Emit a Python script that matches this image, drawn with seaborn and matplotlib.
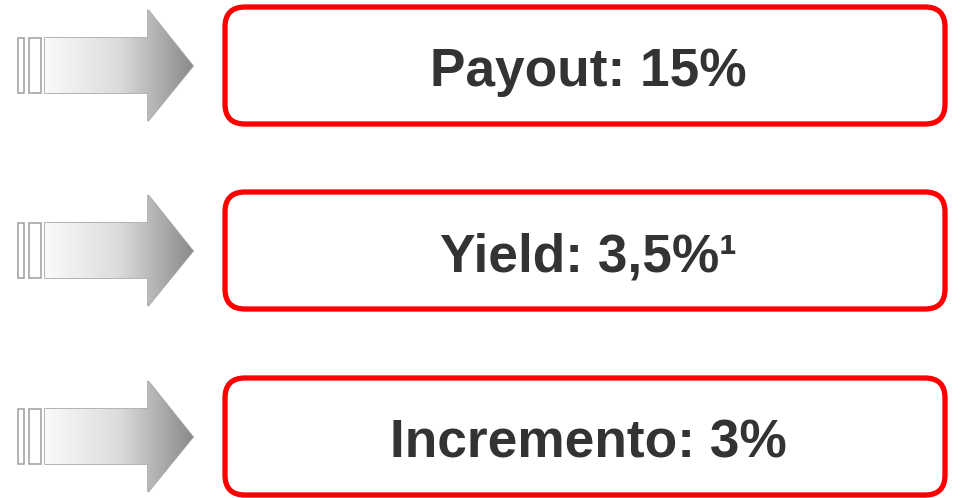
import numpy as np
import seaborn as sns
import matplotlib.pyplot as plt
from matplotlib.patches import FancyBboxPatch, Polygon, Rectangle

# data
labels = ["Payout: 15%", "Yield: 3,5%\u00b9", "Incremento: 3%"]

sns.set_theme(style="white")
plt.rcParams['font.family'] = ['Liberation Sans', 'DejaVu Sans']

fig = plt.figure(figsize=(9.61, 4.98), dpi=100)
ax = fig.add_axes([0, 0, 1, 1])
ax.set_xlim(0, 961)
ax.set_ylim(498, 0)
ax.axis('off')

# gradient used to fill arrows
grad = np.linspace(0, 1, 256).reshape(1, -1)
cmap = sns.blend_palette(["#fafafa", "#dcdcdc", "#8a8a8a"], as_cmap=True)

row_top = [5, 190, 376]
for i, text in enumerate(labels):
    top = row_top[i]
    mid = top + 61

    # arrow
    body_top, body_bot = mid - 28, mid + 27
    pts = [(45, body_top), (148, body_top), (148, mid - 56), (193, mid),
           (148, mid + 55), (148, body_bot), (45, body_bot)]
    arrow = Polygon(pts, closed=True, facecolor='none', edgecolor='#a6a6a6', lw=1.2)
    ax.add_patch(arrow)
    im = ax.imshow(grad, cmap=cmap, extent=(45, 193, mid + 56, mid - 56),
                   aspect='auto', zorder=1)
    im.set_clip_path(arrow)
    # stripes at the tail
    for x0, w in [(18, 6), (29, 12)]:
        ax.add_patch(Rectangle((x0, body_top), w, body_bot - body_top,
                               facecolor='white', edgecolor='#a6a6a6', lw=1.2))

    # rounded box
    box = FancyBboxPatch((225, top + 2), 720, 117,
                         boxstyle="round,pad=0,rounding_size=20",
                         facecolor='white', edgecolor='#ff0000', lw=3.8)
    ax.add_patch(box)
    ax.text(588, top + 67, text, ha='center', va='center',
            fontsize=38.3, fontweight='bold', color='#333333')

fig.savefig('out.png', dpi=100)
